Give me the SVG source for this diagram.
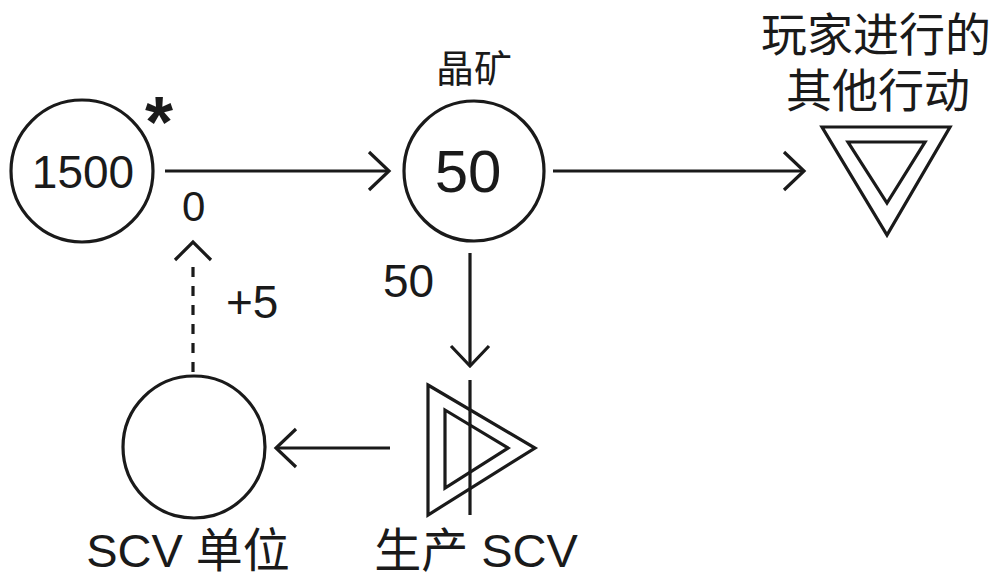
<svg xmlns="http://www.w3.org/2000/svg" width="1003" height="575" viewBox="0 0 1003 575">
<defs>
<style>
.s{fill:none;stroke:#1a1a1a;stroke-width:3.2}
.t{font-family:"Liberation Sans","Noto Sans CJK SC",Arial,sans-serif;fill:#1a1a1a}
</style>
<marker id="ah" viewBox="-23 -22 26 44" markerWidth="26" markerHeight="44" markerUnits="userSpaceOnUse" refX="0" refY="0" orient="auto">
<path d="M -20 -19 L 0 0 L -20 19" fill="none" stroke="#1a1a1a" stroke-width="3.2"/>
</marker>
</defs>
<rect width="1003" height="575" fill="#ffffff"/>
<g id="connectors">
<line class="s" x1="165" y1="171" x2="389" y2="171" marker-end="url(#ah)"/>
<line class="s" x1="553" y1="171" x2="804" y2="171" marker-end="url(#ah)"/>
<line class="s" x1="470" y1="253" x2="470" y2="366" marker-end="url(#ah)"/>
<line class="s" x1="390" y1="448" x2="276" y2="448" marker-end="url(#ah)"/>
<line class="s" x1="193" y1="372" x2="193" y2="262" stroke-dasharray="10 9"/>
<path class="s" d="M 175 260 L 193 242 L 211 260"/>
<text class="t" x="182" y="221" font-size="42">0</text>
<text class="t" x="226" y="318" font-size="46">+5</text>
<text class="t" x="383" y="297" font-size="46">50</text>
</g>
<g id="source">
<circle class="s" cx="82" cy="171" r="71"/>
<text class="t" x="83" y="188" font-size="46" text-anchor="middle">1500</text>
<text class="t" x="159" y="147" font-size="72" font-weight="bold" text-anchor="middle">*</text>
</g>
<g id="crystal">
<circle class="s" cx="474" cy="171" r="70"/>
<text class="t" x="468" y="192" font-size="60" text-anchor="middle">50</text>
<text class="t" x="474" y="82" font-size="38" text-anchor="middle">晶矿</text>
</g>
<g id="drain">
<path class="s" d="M 822 127 L 950 127 L 887 235 Z"/>
<path class="s" d="M 848 142 L 925 142 L 887 203 Z"/>
<text class="t" x="876" y="51" font-size="46" text-anchor="middle">玩家进行的</text>
<text class="t" x="878" y="107" font-size="46" text-anchor="middle">其他行动</text>
</g>
<g id="converter">
<path class="s" d="M 428 385 L 535 448 L 428 515 Z"/>
<path class="s" d="M 445 410 L 508 448 L 445 488 Z"/>
<line class="s" x1="470" y1="380" x2="470" y2="515"/>
<text class="t" x="476" y="567" font-size="47" text-anchor="middle">生产 SCV</text>
</g>
<g id="scv">
<circle class="s" cx="194" cy="447" r="71"/>
<text class="t" x="188" y="567" font-size="47" text-anchor="middle">SCV 单位</text>
</g>
</svg>
